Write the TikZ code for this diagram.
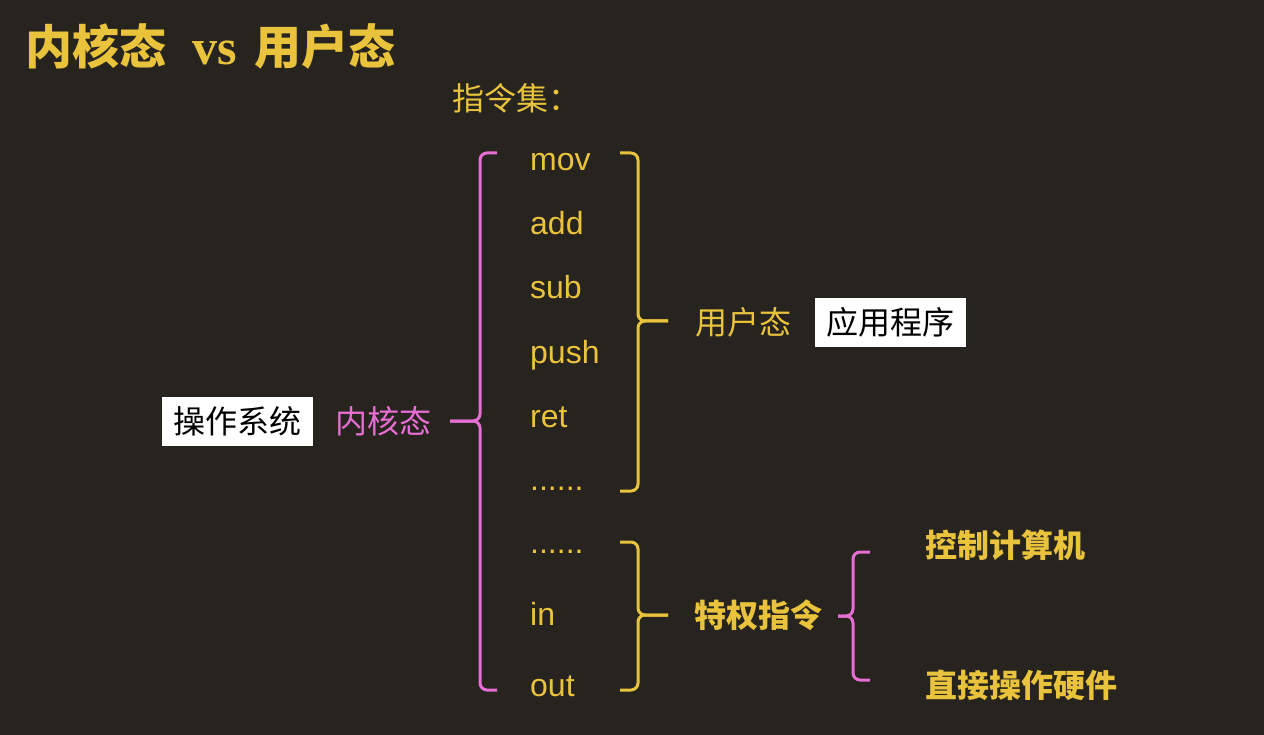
\documentclass[tikz,border=0pt]{standalone}
\usepackage{fontspec}
\setmainfont{Liberation Sans}
\newfontfamily\cjk{Noto Sans CJK SC}
\newfontfamily\titleserif{Liberation Serif}
\usetikzlibrary{positioning}
\definecolor{bg}{HTML}{27231F}
\definecolor{gold}{HTML}{E8C33B}
\definecolor{rose}{HTML}{E76ED2}

\begin{document}
\begin{tikzpicture}[x=1pt,y=-1pt,
   instr/.style={anchor=base west,text=gold,inner sep=0pt,font=\fontsize{32}{36}\selectfont},
   lbl/.style={inner sep=0pt,text=gold,font=\cjk\fontsize{32}{36}\selectfont},
   boldlbl/.style={lbl,font=\cjk\bfseries\fontsize{32}{36}\selectfont},
   whitebox/.style={fill=white,text=black,inner sep=0pt,minimum width=151,minimum height=49,font=\cjk\fontsize{32}{36}\selectfont},
   goldline/.style={draw=gold,line width=3,rounded corners=7},
   roseline/.style={draw=rose,line width=3,rounded corners=7}]
% sfondo
   \fill[bg] (0,0) rectangle (1264,735);
% titolo
   \node[anchor=west,inner sep=0pt,text=gold,font=\cjk\bfseries\fontsize{47}{50}\selectfont]
   (title) at (25,47) {内核态\hspace{26pt}{\titleserif\bfseries\fontsize{50}{50}\selectfont vs}\hspace{18pt}用户态};
   \node[lbl,anchor=west,font=\cjk\fontsize{32}{36}\selectfont] (iset) at (452,98) {指令集：};
% istruzioni
   \node[instr] (mov) at (530,171) {mov}; \node[instr] (add) at (530,235) {add};
   \node[instr] (sub) at (530,299) {sub}; \node[instr] (push) at (530,363) {push};
   \node[instr] (ret) at (530,427) {ret}; \node[instr] (dotsa) at (530,490) {......};
   \node[instr] (dotsb) at (530,553) {......}; \node[instr] (in) at (530,625) {in};
   \node[instr] (out) at (530,696) {out};
% etichette
   \node[whitebox] (os) at (237.5,421.5) {操作系统};
   \node[lbl,text=rose] (kernel) at (383,421) {内核态};
   \node[lbl] (user) at (743,322) {用户态};
   \node[whitebox] (app) at (890.5,322.5) {应用程序};
   \node[boldlbl] (priv) at (758,615) {特权指令};
   \node[boldlbl,anchor=west] (ctrl) at (925,545) {控制计算机};
   \node[boldlbl,anchor=west] (hw) at (925,685) {直接操作硬件};
% graffe
   \coordinate (ktop) at (497,153); \coordinate (ktip) at (450,421); \coordinate (kbot) at (497,690);
   \draw[roseline] (ktop) -| (480,421) -- (ktip);
   \draw[roseline] (ktip) -| (480,690) -- (kbot);
   \coordinate (utop) at (620,153); \coordinate (utip) at (668,321); \coordinate (ubot) at (620,491);
   \draw[goldline] (utop) -| (638,321) -- (utip);
   \draw[goldline] (utip) -| (638,491) -- (ubot);
   \coordinate (ptop) at (620,542); \coordinate (ptip) at (668,615); \coordinate (pbot) at (620,690);
   \draw[goldline] (ptop) -| (638,615) -- (ptip);
   \draw[goldline] (ptip) -| (638,690) -- (pbot);
   \coordinate (htop) at (870,552); \coordinate (htip) at (838,616); \coordinate (hbot) at (870,680);
   \draw[roseline] (htop) -| (853,616) -- (htip);
   \draw[roseline] (htip) -| (853,680) -- (hbot);
\end{tikzpicture}
\end{document}
